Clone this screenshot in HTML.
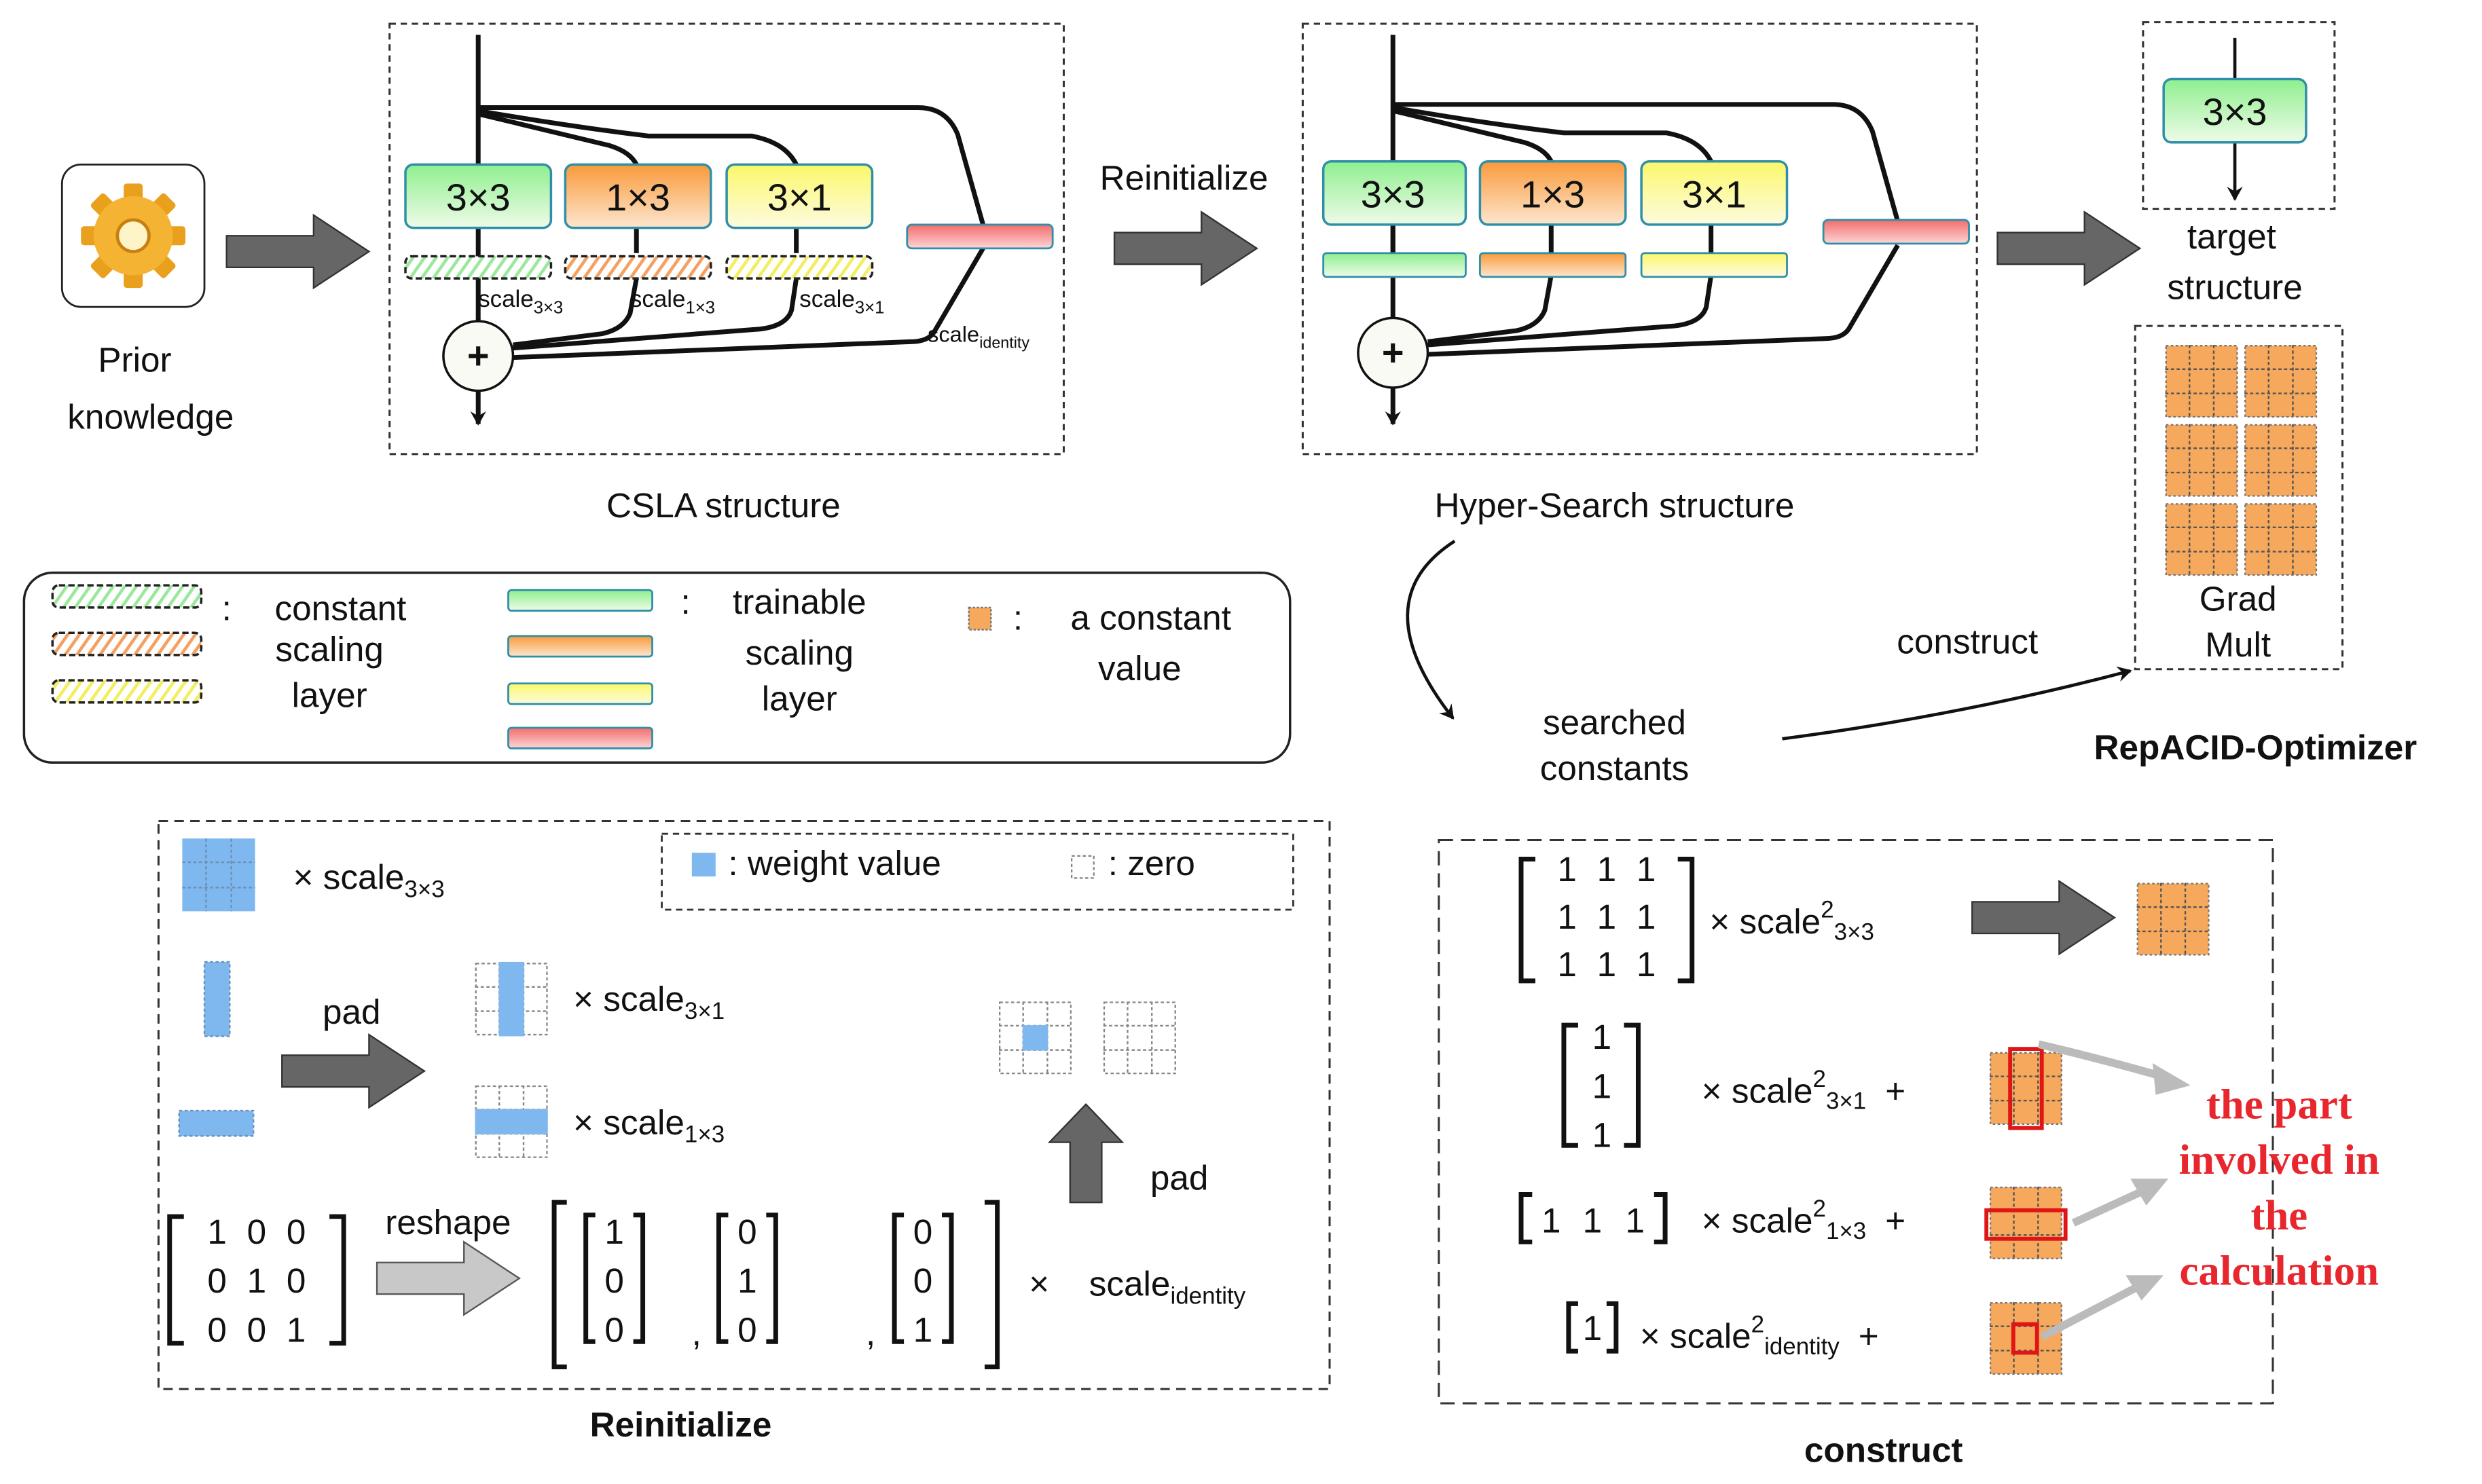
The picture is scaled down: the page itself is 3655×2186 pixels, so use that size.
<!DOCTYPE html>
<html><head><meta charset="utf-8">
<style>html,body{margin:0;padding:0;background:#fff}svg{display:block}text{font-family:"Liberation Sans",sans-serif;fill:#111}</style>
</head><body>
<svg width="3655" height="2186" viewBox="0 0 1568 938" xmlns="http://www.w3.org/2000/svg">
<defs>
<linearGradient id="gG" x1="0" y1="0" x2="0" y2="1"><stop offset="0" stop-color="#8fef8f"/><stop offset="1" stop-color="#eefbe8"/></linearGradient>
<linearGradient id="gO" x1="0" y1="0" x2="0" y2="1"><stop offset="0" stop-color="#f99a3a"/><stop offset="1" stop-color="#fde6cf"/></linearGradient>
<linearGradient id="gY" x1="0" y1="0" x2="0" y2="1"><stop offset="0" stop-color="#fbf86a"/><stop offset="1" stop-color="#fdfbe0"/></linearGradient>
<linearGradient id="gR" x1="0" y1="0" x2="0" y2="1"><stop offset="0" stop-color="#f46c6c"/><stop offset="1" stop-color="#fcd6d6"/></linearGradient>
<pattern id="hG" width="6" height="6" patternUnits="userSpaceOnUse" patternTransform="rotate(35)"><rect width="6" height="6" fill="#fff"/><rect width="2" height="6" fill="#9be89b"/></pattern>
<pattern id="hO" width="6" height="6" patternUnits="userSpaceOnUse" patternTransform="rotate(35)"><rect width="6" height="6" fill="#fff"/><rect width="2" height="6" fill="#f5a060"/></pattern>
<pattern id="hY" width="6" height="6" patternUnits="userSpaceOnUse" patternTransform="rotate(35)"><rect width="6" height="6" fill="#fff"/><rect width="2" height="6" fill="#f2ee60"/></pattern>
<symbol id="og" viewBox="0 0 45 45"><rect x="0.5" y="0.5" width="44" height="44" fill="#f6a85c" stroke="#777" stroke-dasharray="1.5,1.5"/><path d="M15,0V45M30,0V45M0,15H45M0,30H45" stroke="#555" stroke-dasharray="2,1.5"/></symbol>
<symbol id="eg" viewBox="0 0 45 45"><rect x="0.5" y="0.5" width="44" height="44" fill="#fff" stroke="#888" stroke-dasharray="2,1.5"/><path d="M15,0V45M30,0V45M0,15H45M0,30H45" stroke="#888" stroke-dasharray="2,1.5"/></symbol>
<marker id="ah" markerWidth="10" markerHeight="10" refX="8" refY="5" orient="auto" markerUnits="userSpaceOnUse"><path d="M0,0L9,5L0,10L3,5Z" fill="#111"/></marker>
</defs>

<!-- Prior knowledge -->
<rect x="39" y="104" width="90" height="90" rx="12" fill="#fff" stroke="#222" stroke-width="1.2"/>
<g transform="translate(84,149)">
<g fill="#e9a01c">
<rect x="-6" y="-33" width="12" height="66" rx="2"/>
<rect x="-6" y="-33" width="12" height="66" rx="2" transform="rotate(45)"/>
<rect x="-6" y="-33" width="12" height="66" rx="2" transform="rotate(90)"/>
<rect x="-6" y="-33" width="12" height="66" rx="2" transform="rotate(135)"/>
</g>
<circle r="25" fill="#f4b333"/><circle r="10" fill="#fff3c8" stroke="#c77f10" stroke-width="2"/>
</g>
<text x="85" y="235" font-size="22" text-anchor="middle">Prior</text>
<text x="95" y="271" font-size="22" text-anchor="middle">knowledge</text>

<!-- gray arrows -->
<g fill="#666" stroke="#333" stroke-width="1">
<path d="M143,149H198V136L233,159L198,182V169H143Z"/>
<path d="M704,147H759V134L794,157L759,180V167H704Z"/>
<path d="M1262,147H1317V134L1352,157L1317,180V167H1262Z"/>
<path d="M178,667H233V654L268,677L233,700V687H178Z"/>
<path d="M676,760V722H663L686,698L709,722H696V760Z"/>
<path d="M1246,570H1301V557L1336,580L1301,603V590H1246Z"/>
</g>
<path d="M238,798H293V785L328,808L293,831V818H238Z" fill="#c8c8c8" stroke="#555"/>

<!-- CSLA -->
<rect x="246" y="15" width="426" height="272" fill="none" stroke="#333" stroke-width="1.3" stroke-dasharray="4,3"/>
<g fill="none" stroke="#111" stroke-width="3">
<path d="M302,22V268" marker-end="url(#ah)"/>
<path d="M302,68H580Q598,68 605,85L621,142"/>
<path d="M302,70Q360,80 410,86H475Q496,90 503,104"/>
<path d="M302,72Q360,86 385,92Q398,96 402,104"/>
<path d="M503,176L500,196Q497,206 480,208L324,220"/>
<path d="M402,176L398,198Q394,208 380,211L324,218"/>
<path d="M621,157L590,210Q586,216 575,216L324,226"/>
<path d="M402,144V160M503,144V160"/>
</g>
<rect x="256" y="104" width="92" height="40" rx="5" fill="url(#gG)" stroke="#2f8fa8" stroke-width="1.5"/>
<rect x="357" y="104" width="92" height="40" rx="5" fill="url(#gO)" stroke="#2f8fa8" stroke-width="1.5"/>
<rect x="459" y="104" width="92" height="40" rx="5" fill="url(#gY)" stroke="#2f8fa8" stroke-width="1.5"/>
<text x="302" y="133" font-size="24" text-anchor="middle">3×3</text>
<text x="403" y="133" font-size="24" text-anchor="middle">1×3</text>
<text x="505" y="133" font-size="24" text-anchor="middle">3×1</text>
<rect x="256" y="162" width="92" height="14" rx="4" fill="url(#hG)" stroke="#222" stroke-width="1.5" stroke-dasharray="4,2"/>
<rect x="357" y="162" width="92" height="14" rx="4" fill="url(#hO)" stroke="#222" stroke-width="1.5" stroke-dasharray="4,2"/>
<rect x="459" y="162" width="92" height="14" rx="4" fill="url(#hY)" stroke="#222" stroke-width="1.5" stroke-dasharray="4,2"/>
<rect x="573" y="142" width="92" height="15" rx="3" fill="url(#gR)" stroke="#2f8fa8" stroke-width="1.2"/>
<circle cx="302" cy="225" r="22" fill="#fafaf5" stroke="#111" stroke-width="1.5"/>
<text x="302" y="233" font-size="24" font-weight="bold" text-anchor="middle">+</text>
<g font-size="15"><text x="302" y="194">scale<tspan font-size="11" dy="4">3×3</tspan></text>
<text x="398" y="194">scale<tspan font-size="11" dy="4">1×3</tspan></text>
<text x="505" y="194">scale<tspan font-size="11" dy="4">3×1</tspan></text>
<text x="586" y="216" font-size="14">scale<tspan font-size="10" dy="4">identity</tspan></text></g>
<text x="457" y="327" font-size="22" text-anchor="middle">CSLA structure</text>
<text x="748" y="120" font-size="22" text-anchor="middle">Reinitialize</text>

<!-- Hyper-Search -->
<rect x="823" y="15" width="426" height="272" fill="none" stroke="#333" stroke-width="1.3" stroke-dasharray="4,3"/>
<g transform="translate(578,-2)">
<g fill="none" stroke="#111" stroke-width="3">
<path d="M302,24V270" marker-end="url(#ah)"/>
<path d="M302,68H580Q598,68 605,85L621,142"/>
<path d="M302,70Q360,80 410,86H475Q496,90 503,104"/>
<path d="M302,72Q360,86 385,92Q398,96 402,104"/>
<path d="M503,176L500,196Q497,206 480,208L324,220"/>
<path d="M402,176L398,198Q394,208 380,211L324,218"/>
<path d="M621,157L590,210Q586,216 575,216L324,226"/>
<path d="M402,144V162M503,144V162M302,144V162"/>
</g>
<rect x="258" y="104" width="90" height="40" rx="5" fill="url(#gG)" stroke="#2f8fa8" stroke-width="1.5"/>
<rect x="357" y="104" width="92" height="40" rx="5" fill="url(#gO)" stroke="#2f8fa8" stroke-width="1.5"/>
<rect x="459" y="104" width="92" height="40" rx="5" fill="url(#gY)" stroke="#2f8fa8" stroke-width="1.5"/>
<text x="302" y="133" font-size="24" text-anchor="middle">3×3</text>
<text x="403" y="133" font-size="24" text-anchor="middle">1×3</text>
<text x="505" y="133" font-size="24" text-anchor="middle">3×1</text>
<rect x="258" y="162" width="90" height="15" rx="2" fill="url(#gG)" stroke="#2f8fa8" stroke-width="1.2"/>
<rect x="357" y="162" width="92" height="15" rx="2" fill="url(#gO)" stroke="#2f8fa8" stroke-width="1.2"/>
<rect x="459" y="162" width="92" height="15" rx="2" fill="url(#gY)" stroke="#2f8fa8" stroke-width="1.2"/>
<rect x="574" y="141" width="92" height="15" rx="3" fill="url(#gR)" stroke="#2f8fa8" stroke-width="1.2"/>
<circle cx="302" cy="225" r="22" fill="#fafaf5" stroke="#111" stroke-width="1.5"/>
<text x="302" y="233" font-size="24" font-weight="bold" text-anchor="middle">+</text>
</g>
<text x="1020" y="327" font-size="22" text-anchor="middle">Hyper-Search structure</text>

<!-- target -->
<rect x="1354" y="14" width="121" height="118" fill="none" stroke="#333" stroke-width="1.3" stroke-dasharray="4,3"/>
<path d="M1412,24V126" stroke="#111" stroke-width="2" marker-end="url(#ah)"/>
<rect x="1367" y="50" width="90" height="40" rx="5" fill="url(#gG)" stroke="#2f8fa8" stroke-width="1.5"/>
<text x="1412" y="79" font-size="24" text-anchor="middle">3×3</text>
<text x="1410" y="157" font-size="22" text-anchor="middle">target</text>
<text x="1412" y="189" font-size="22" text-anchor="middle">structure</text>

<rect x="1349" y="206" width="131" height="217" fill="none" stroke="#333" stroke-width="1.3" stroke-dasharray="4,3"/>
<use href="#og" x="1368" y="218" width="46" height="46"/><use href="#og" x="1418" y="218" width="46" height="46"/>
<use href="#og" x="1368" y="268" width="46" height="46"/><use href="#og" x="1418" y="268" width="46" height="46"/>
<use href="#og" x="1368" y="318" width="46" height="46"/><use href="#og" x="1418" y="318" width="46" height="46"/>
<text x="1414" y="386" font-size="22" text-anchor="middle">Grad</text>
<text x="1414" y="415" font-size="22" text-anchor="middle">Mult</text>
<text x="1243" y="413" font-size="22" text-anchor="middle">construct</text>
<path d="M1126,467Q1240,452 1346,424" fill="none" stroke="#111" stroke-width="2" marker-end="url(#ah)"/>
<text x="1425" y="480" font-size="22" font-weight="bold" text-anchor="middle">RepACID-Optimizer</text>
<path d="M919,342Q860,380 918,454" fill="none" stroke="#111" stroke-width="2" marker-end="url(#ah)"/>
<text x="1020" y="464" font-size="22" text-anchor="middle">searched</text>
<text x="1020" y="493" font-size="22" text-anchor="middle">constants</text>

<!-- legend -->
<rect x="15" y="362" width="800" height="120" rx="18" fill="none" stroke="#222" stroke-width="1.5"/>
<rect x="33" y="370" width="94" height="14" rx="4" fill="url(#hG)" stroke="#222" stroke-width="1.5" stroke-dasharray="4,2"/>
<rect x="33" y="400" width="94" height="14" rx="4" fill="url(#hO)" stroke="#222" stroke-width="1.5" stroke-dasharray="4,2"/>
<rect x="33" y="430" width="94" height="14" rx="4" fill="url(#hY)" stroke="#222" stroke-width="1.5" stroke-dasharray="4,2"/>
<text x="140" y="392" font-size="22">:</text>
<text x="215" y="392" font-size="22" text-anchor="middle">constant</text>
<text x="208" y="418" font-size="22" text-anchor="middle">scaling</text>
<text x="208" y="447" font-size="22" text-anchor="middle">layer</text>
<rect x="321" y="373" width="91" height="13" rx="2" fill="url(#gG)" stroke="#2f8fa8" stroke-width="1.2"/>
<rect x="321" y="402" width="91" height="13" rx="2" fill="url(#gO)" stroke="#2f8fa8" stroke-width="1.2"/>
<rect x="321" y="432" width="91" height="13" rx="2" fill="url(#gY)" stroke="#2f8fa8" stroke-width="1.2"/>
<rect x="321" y="460" width="91" height="13" rx="2" fill="url(#gR)" stroke="#2f8fa8" stroke-width="1.2"/>
<text x="430" y="388" font-size="22">:</text>
<text x="505" y="388" font-size="22" text-anchor="middle">trainable</text>
<text x="505" y="420" font-size="22" text-anchor="middle">scaling</text>
<text x="505" y="449" font-size="22" text-anchor="middle">layer</text>
<rect x="612" y="384" width="14" height="14" fill="#f6a85c" stroke="#777" stroke-dasharray="1.5,1"/>
<text x="640" y="398" font-size="22">:</text>
<text x="727" y="398" font-size="22" text-anchor="middle">a constant</text>
<text x="720" y="430" font-size="22" text-anchor="middle">value</text>

<!-- Reinitialize box -->
<rect x="100" y="519" width="740" height="359" fill="none" stroke="#333" stroke-width="1.3" stroke-dasharray="6,4"/>
<g>
<rect x="115" y="530" width="46" height="46" fill="#7fb8ee"/><path d="M130,530V576M146,530V576M115,545H161M115,561H161" stroke="#6a90b8" stroke-dasharray="2,1.5"/>
</g>
<text x="185" y="562" font-size="22">× scale<tspan font-size="15" dy="5">3×3</tspan></text>
<rect x="418" y="527" width="399" height="48" fill="none" stroke="#333" stroke-width="1.2" stroke-dasharray="4,3"/>
<rect x="437" y="539" width="15" height="15" fill="#7fb8ee"/>
<text x="460" y="553" font-size="22">: weight value</text>
<rect x="677" y="541" width="14" height="14" fill="none" stroke="#888" stroke-dasharray="2,1.5"/>
<text x="700" y="553" font-size="22">: zero</text>
<rect x="129" y="608" width="16" height="47" fill="#7fb8ee" stroke="#6a90b8" stroke-dasharray="2,1.5"/>
<rect x="113" y="702" width="47" height="16" fill="#7fb8ee" stroke="#6a90b8" stroke-dasharray="2,1.5"/>
<text x="222" y="647" font-size="22" text-anchor="middle">pad</text>
<use href="#eg" x="300" y="608" width="46" height="47"/><rect x="315" y="608" width="16" height="47" fill="#7fb8ee"/>
<text x="362" y="639" font-size="22">× scale<tspan font-size="15" dy="5">3×1</tspan></text>
<use href="#eg" x="300" y="686" width="46" height="46"/><rect x="300" y="701" width="46" height="16" fill="#7fb8ee"/>
<text x="362" y="717" font-size="22">× scale<tspan font-size="15" dy="5">1×3</tspan></text>
<use href="#eg" x="631" y="633" width="46" height="46"/><rect x="646" y="648" width="16" height="16" fill="#7fb8ee"/>
<use href="#eg" x="697" y="633" width="46" height="46"/>
<text x="745" y="752" font-size="22" text-anchor="middle">pad</text>
<g fill="none" stroke="#111" stroke-width="3">
<path d="M116,769H107V849H116M208,769H217V849H208"/>
<path d="M358,760H350V864H358M622,760H630V864H622"/>
<path d="M376,768H370V848H376M400,768H406V848H400"/>
<path d="M460,768H454V848H460M484,768H490V848H484"/>
<path d="M571,768H565V848H571M595,768H601V848H595"/>
</g>
<g font-size="22" text-anchor="middle">
<text x="137" y="786">1</text><text x="162" y="786">0</text><text x="187" y="786">0</text>
<text x="137" y="817">0</text><text x="162" y="817">1</text><text x="187" y="817">0</text>
<text x="137" y="848">0</text><text x="162" y="848">0</text><text x="187" y="848">1</text>
<text x="388" y="786">1</text><text x="388" y="817">0</text><text x="388" y="848">0</text>
<text x="472" y="786">0</text><text x="472" y="817">1</text><text x="472" y="848">0</text>
<text x="583" y="786">0</text><text x="583" y="817">0</text><text x="583" y="848">1</text>
<text x="440" y="850">,</text><text x="550" y="850">,</text>
</g>
<text x="283" y="780" font-size="22" text-anchor="middle">reshape</text>
<text x="650" y="819" font-size="22">× </text>
<text x="688" y="819" font-size="22">scale<tspan font-size="15" dy="5">identity</tspan></text>
<text x="430" y="908" font-size="22" font-weight="bold" text-anchor="middle">Reinitialize</text>

<!-- construct box -->
<rect x="909" y="531" width="527" height="356" fill="none" stroke="#333" stroke-width="1.3" stroke-dasharray="9,5"/>
<g fill="none" stroke="#111" stroke-width="3">
<path d="M970,543H961V620H970M1060,543H1069V620H1060"/>
<path d="M997,648H988V724H997M1026,648H1035V724H1026"/>
<path d="M968,755H961V785H968M1045,755H1052V785H1045"/>
<path d="M997,824H991V854H997M1015,824H1021V854H1015"/>
</g>
<g font-size="22" text-anchor="middle">
<text x="990" y="557">1</text><text x="1015" y="557">1</text><text x="1040" y="557">1</text>
<text x="990" y="587">1</text><text x="1015" y="587">1</text><text x="1040" y="587">1</text>
<text x="990" y="617">1</text><text x="1015" y="617">1</text><text x="1040" y="617">1</text>
<text x="1012" y="663">1</text><text x="1012" y="694">1</text><text x="1012" y="725">1</text>
<text x="980" y="779">1</text><text x="1006" y="779">1</text><text x="1033" y="779">1</text>
<text x="1006" y="847">1</text>
</g>
<text x="1080" y="590" font-size="22">× scale<tspan font-size="15" dy="-10">2</tspan><tspan font-size="15" dy="14">3×3</tspan></text>
<text x="1075" y="697" font-size="22">× scale<tspan font-size="15" dy="-10">2</tspan><tspan font-size="15" dy="14">3×1</tspan><tspan dy="-4" dx="12">+</tspan></text>
<text x="1075" y="779" font-size="22">× scale<tspan font-size="15" dy="-10">2</tspan><tspan font-size="15" dy="14">1×3</tspan><tspan dy="-4" dx="12">+</tspan></text>
<text x="1036" y="852" font-size="22">× scale<tspan font-size="15" dy="-10">2</tspan><tspan font-size="15" dy="14">identity</tspan><tspan dy="-4" dx="12">+</tspan></text>
<use href="#og" x="1350" y="558" width="46" height="46"/>
<use href="#og" x="1257" y="664" width="46" height="48"/>
<rect x="1270" y="663" width="20" height="50" fill="none" stroke="#e01515" stroke-width="2.5"/>
<use href="#og" x="1257" y="750" width="46" height="46"/>
<rect x="1255" y="765" width="50" height="18" fill="none" stroke="#e01515" stroke-width="2.5"/>
<use href="#og" x="1257" y="823" width="46" height="46"/>
<rect x="1272" y="837" width="15" height="18" fill="none" stroke="#e01515" stroke-width="2.5"/>
<g stroke="#bbb" stroke-width="5" fill="none">
<path d="M1288,660Q1330,670 1372,682"/><path d="M1310,773L1360,750"/><path d="M1290,845L1357,810"/>
</g>
<g fill="#bbb"><path d="M1384,686L1360,672L1362,692Z"/><path d="M1370,745L1346,745L1356,762Z"/><path d="M1367,806L1343,806L1353,822Z"/></g>
<g font-family="Liberation Serif,serif" font-size="27" font-weight="bold" fill="#e8262e" text-anchor="middle" style="fill:#e8262e">
<text x="1440" y="707" style="font-family:'Liberation Serif',serif;fill:#e8262e">the part</text>
<text x="1440" y="742" style="font-family:'Liberation Serif',serif;fill:#e8262e">involved in</text>
<text x="1440" y="777" style="font-family:'Liberation Serif',serif;fill:#e8262e">the</text>
<text x="1440" y="812" style="font-family:'Liberation Serif',serif;fill:#e8262e">calculation</text>
</g>
<text x="1190" y="924" font-size="22" font-weight="bold" text-anchor="middle">construct</text>
</svg>
</body></html>
